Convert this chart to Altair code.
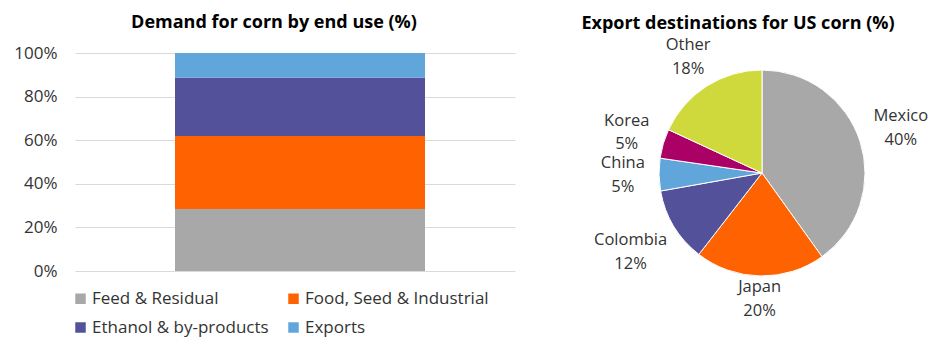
import altair as alt
import pandas as pd

# ---- data ----
end_use = ["Feed & Residual", "Food, Seed & Industrial", "Ethanol & by-products", "Exports"]
end_use_share = [28.4, 33.5, 26.8, 11.3]
end_use_colors = ["#A8A8A8", "#FF6200", "#525199", "#60A6DA"]

dest = ["Mexico", "Japan", "Colombia", "China", "Korea", "Other"]
dest_share = [40.1, 20.4, 11.7, 5.1, 4.6, 18.1]
dest_colors = ["#A8A8A8", "#FF6200", "#525199", "#60A6DA", "#AB0066", "#D0D93C"]

y_ticks = [0, 20, 40, 60, 80, 100]

FONT = "Open Sans"
TXT = "#333333"

bar_df = pd.DataFrame({"use": end_use, "share": end_use_share,
                       "idx": list(range(len(end_use))), "grp": ["US"] * len(end_use)})

bar = alt.Chart(
    bar_df,
    title=alt.TitleParams("Demand for corn by end use (%)", fontSize=18, fontWeight="bold",
                          font=FONT, color="#000000", dx=-21, offset=12),
).mark_bar(size=250, xOffset=5).encode(
    x=alt.X("grp:N", axis=None),
    y=alt.Y("share:Q", stack="zero",
            scale=alt.Scale(domain=[0, 100], nice=False),
            axis=alt.Axis(values=y_ticks, labelExpr="datum.value + '%'", title=None,
                          domain=False, ticks=False, grid=True, gridColor="#DADADA",
                          labelFontSize=17, labelFont=FONT, labelColor=TXT, labelPadding=18)),
    color=alt.Color("use:N", scale=alt.Scale(domain=end_use, range=end_use_colors),
                    legend=alt.Legend(title=None, orient="none", legendX=-3, legendY=237,
                                      direction="horizontal",
                                      columns=2, columnPadding=16, rowPadding=11,
                                      symbolType="square", symbolSize=110, symbolStrokeWidth=0,
                                      labelFontSize=17, labelFont=FONT, labelColor=TXT,
                                      labelOffset=3, labelLimit=300)),
    order=alt.Order("idx:Q", sort="ascending"),
).properties(width=440, height=218)

pie_df = pd.DataFrame({"dest": dest, "share": dest_share, "idx": list(range(len(dest)))})

base = alt.Chart(
    pie_df,
    title=alt.TitleParams("Export  destinations for US corn (%)", fontSize=18, fontWeight="bold",
                          font=FONT, color="#000000", dx=-24, offset=4),
).transform_window(
    cum="sum(share)", sort=[alt.SortField("idx")]
).transform_joinaggregate(
    total="sum(share)"
).transform_calculate(
    t0="2*PI*(datum.cum - datum.share)/datum.total",
    t1="2*PI*datum.cum/datum.total",
).transform_calculate(
    tm="(datum.t0 + datum.t1)/2",
    w="length(datum.dest)*4.8",
).transform_calculate(
    r="115 + datum.w * abs(sin(datum.tm)) + 11 * abs(cos(datum.tm))",
    label="datum.dest + '\\n' + format(datum.share, '.0f') + '%'",
)

arcs = base.mark_arc(radius=103, stroke="white", strokeWidth=1).encode(
    theta=alt.Theta("t0:Q", scale=None),
    theta2="t1:Q",
    color=alt.Color("dest:N", scale=alt.Scale(domain=dest, range=dest_colors), legend=None),
)

labels = base.mark_text(lineBreak="\n", lineHeight=23.5, fontSize=16.5, font=FONT, color=TXT,
                        align="center", baseline="middle", dy=-12).encode(
    theta=alt.Theta("tm:Q", scale=None),
    radius=alt.Radius("r:Q", scale=None),
    text="label:N",
)

pie = alt.layer(arcs, labels).properties(width=330, height=240)

chart = alt.hconcat(bar, pie, spacing=82, bounds="flush").resolve_scale(
    color="independent"
).configure_view(
    stroke=None
).properties(
    background="white",
    padding={"left": 5, "top": 6, "right": 5, "bottom": 5},
)

chart.save("out.html", embed_options={"renderer": "svg", "actions": False})
